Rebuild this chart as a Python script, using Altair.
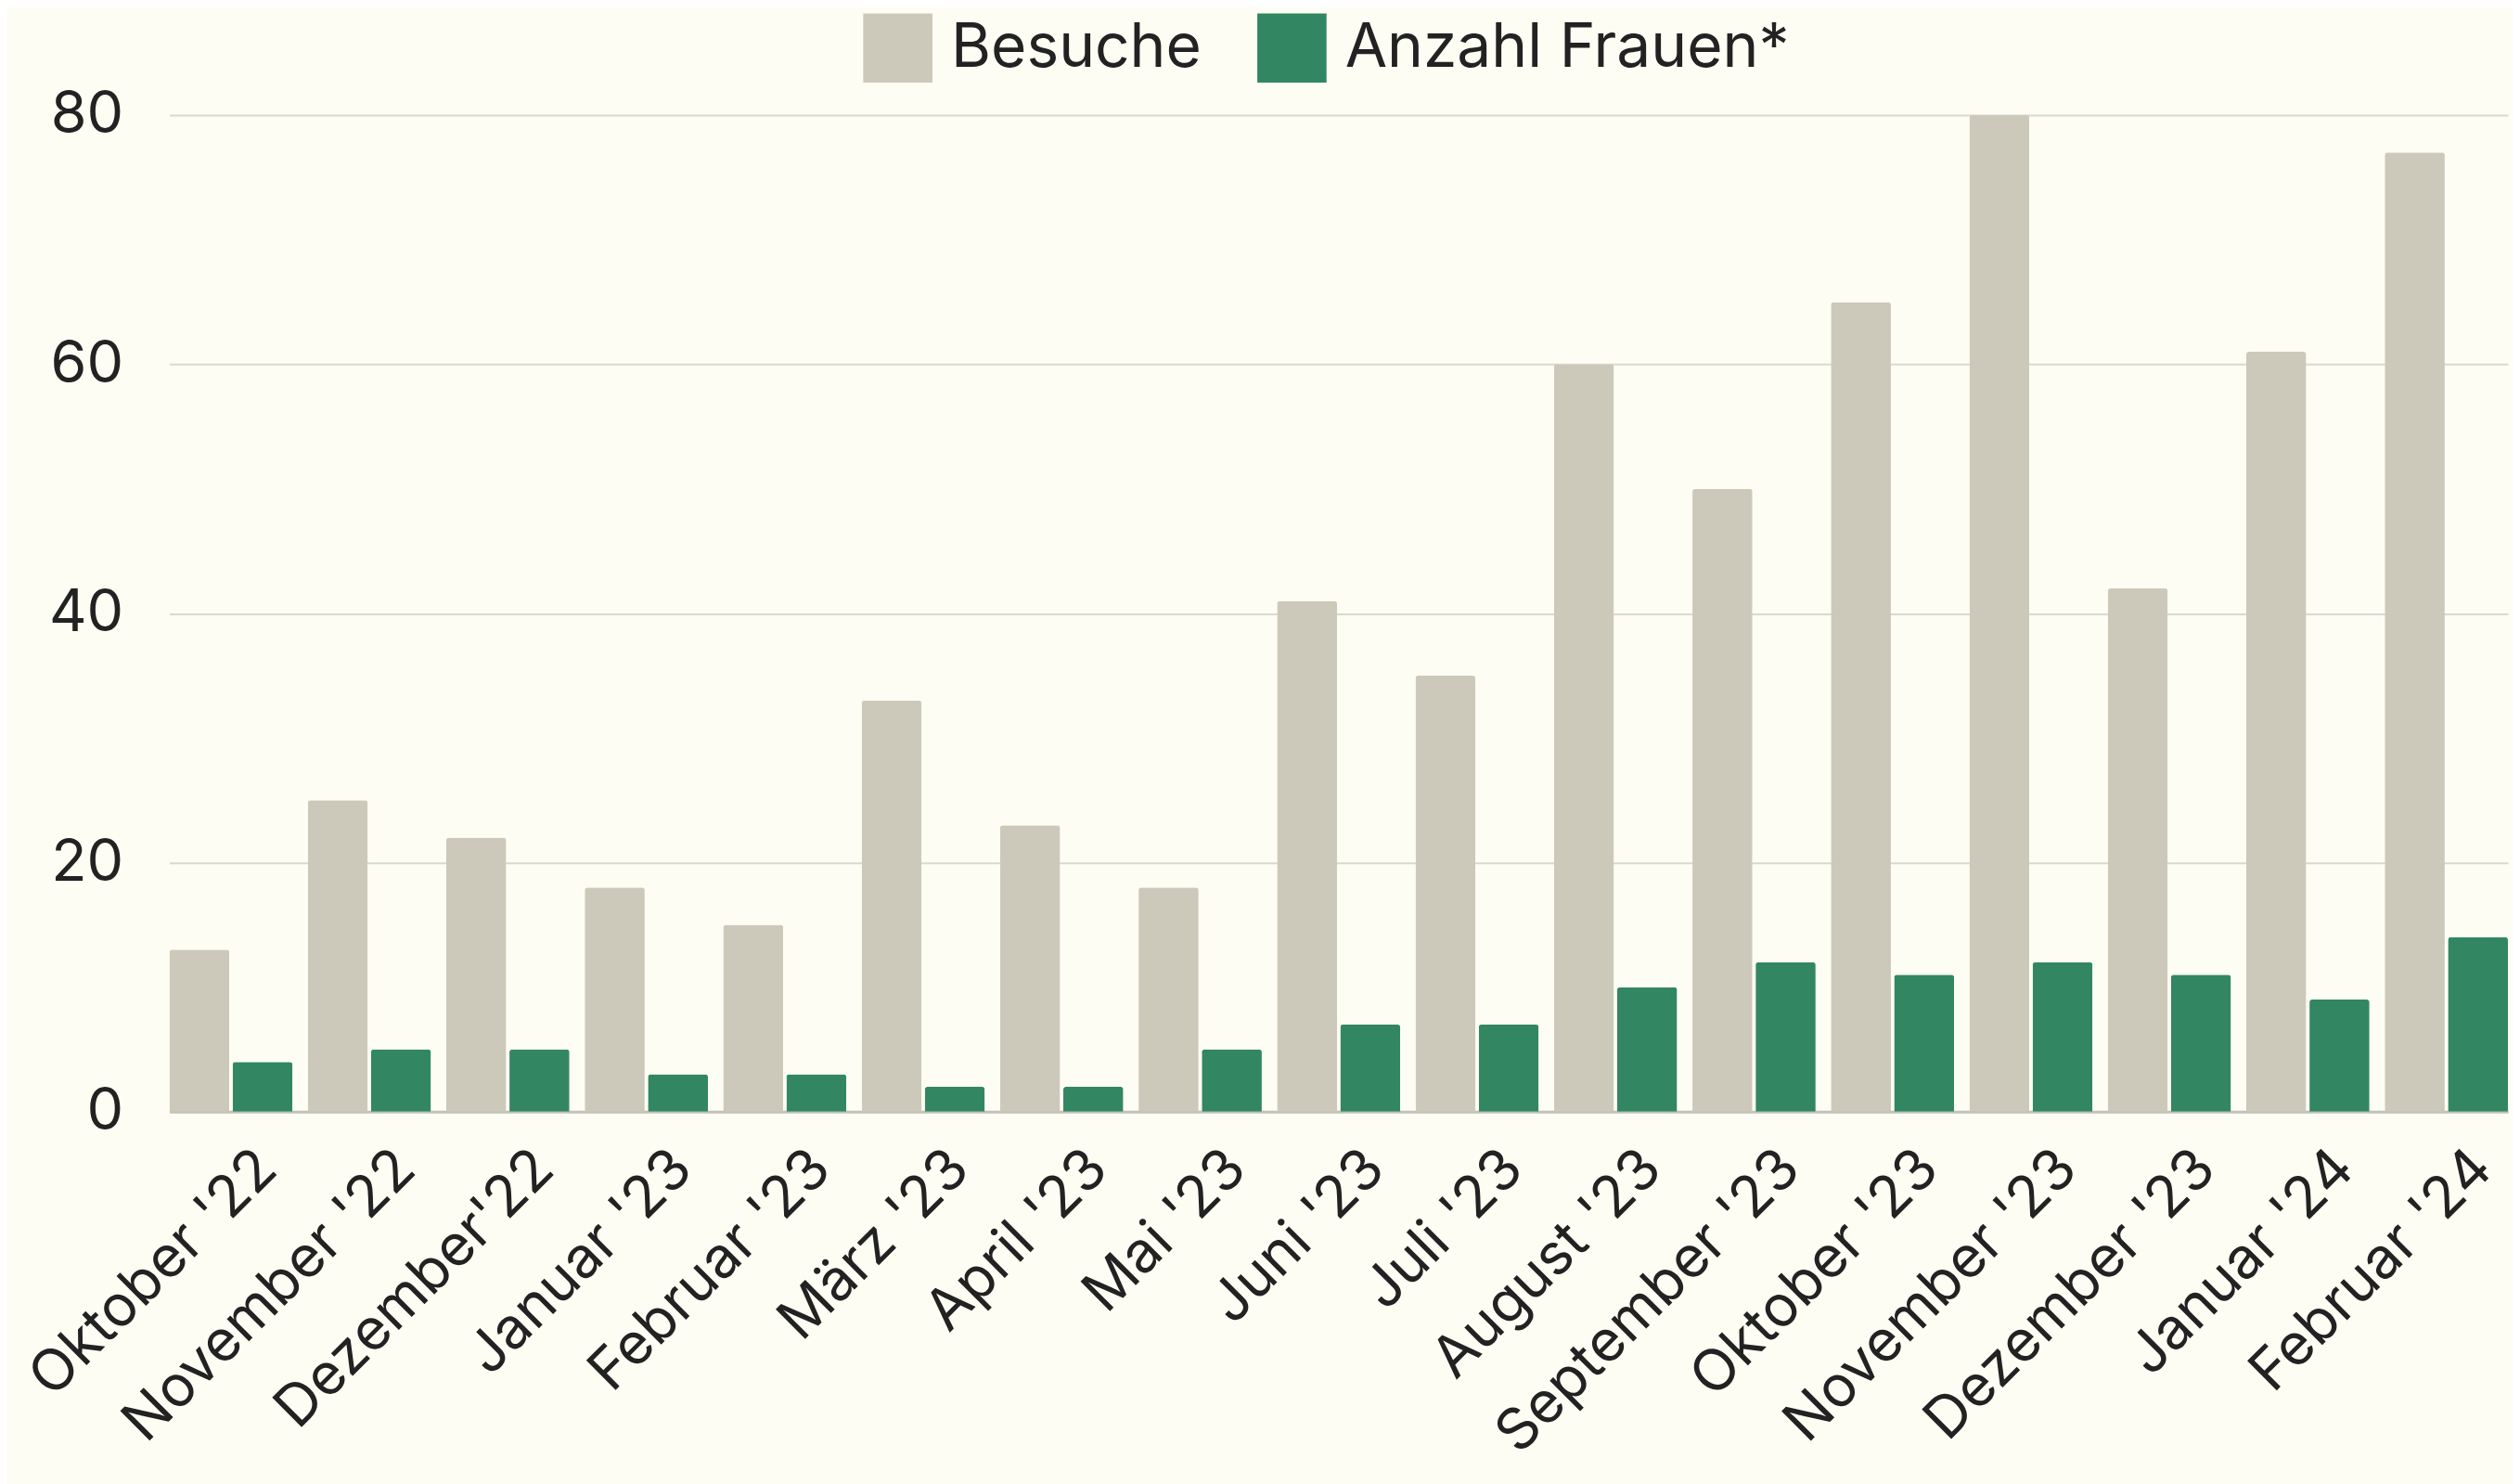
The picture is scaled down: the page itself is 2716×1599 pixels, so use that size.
import altair as alt
import pandas as pd

months = ["Oktober '22", "November '22", "Dezember'22", "Januar '23", "Februar '23",
          "März '23", "April '23", "Mai '23", "Juni '23", "Juli '23", "August '23",
          "September '23", "Oktober '23", "November '23", "Dezember '23",
          "Januar '24", "Februar '24"]
besuche = [13, 25, 22, 18, 15, 33, 23, 18, 41, 35, 60, 50, 65, 80, 42, 61, 77]
frauen = [4, 5, 5, 3, 3, 2, 2, 5, 7, 7, 10, 12, 11, 12, 11, 9, 14]
series = ["Besuche", "Anzahl Frauen*"]
colors = ["#cdc9ba", "#328762"]
y_ticks = [0, 20, 40, 60, 80]

rows = []
for m, b, f in zip(months, besuche, frauen):
    rows.append({"Monat": m, "Serie": series[0], "Wert": b})
    rows.append({"Monat": m, "Serie": series[1], "Wert": f})
df = pd.DataFrame(rows)

FONT = "Inter"
TEXT = "#222222"

chart = alt.Chart(df).mark_bar(cornerRadiusTopLeft=3, cornerRadiusTopRight=3).encode(
    x=alt.X("Monat:N", sort=months, title=None,
            scale=alt.Scale(paddingInner=0.11, paddingOuter=0.0),
            axis=alt.Axis(labelAngle=-45, labelFontSize=62, labelColor=TEXT, labelFont=FONT,
                          ticks=False, domain=True, domainColor="#c2c2ba", domainWidth=3,
                          labelPadding=30, labelOffset=18, labelLimit=0)),
    xOffset=alt.XOffset("Serie:N", sort=series, scale=alt.Scale(paddingInner=0.05)),
    y=alt.Y("Wert:Q", title=None, scale=alt.Scale(domain=[0, 80]),
            axis=alt.Axis(values=y_ticks, labelFontSize=63, labelColor=TEXT, labelFont=FONT,
                          ticks=False, domain=False, labelPadding=50,
                          gridColor="#d9d9d1", gridWidth=2)),
    color=alt.Color("Serie:N", sort=series,
                    scale=alt.Scale(domain=series, range=colors),
                    legend=alt.Legend(orient="none", legendX=750, legendY=-110,
                                      direction="horizontal", title=None, symbolType="square",
                                      symbolSize=5600, symbolStrokeWidth=0,
                                      labelFontSize=66, labelFont=FONT, labelColor=TEXT,
                                      labelLimit=0, columnPadding=60, labelOffset=20)),
).properties(
    width=2528, height=1077, background="#fdfdf4",
    padding={"left": 12, "top": 4, "right": 5, "bottom": 40}
).configure_view(stroke=None)

chart.save("out.html", embed_options={"renderer": "svg", "actions": False})
